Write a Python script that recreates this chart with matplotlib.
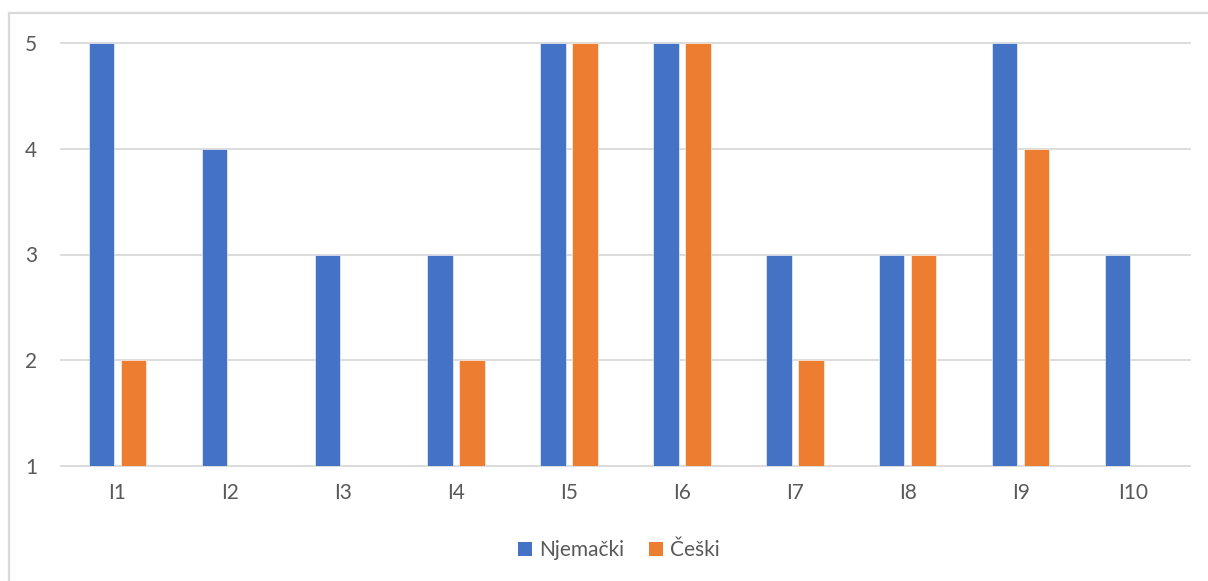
import matplotlib
matplotlib.use("Agg")
import matplotlib.pyplot as plt
from matplotlib.lines import Line2D
from matplotlib.patches import Patch
import numpy as np

plt.rcParams['font.family'] = ['Lato', 'DejaVu Sans']

categories = ["I1", "I2", "I3", "I4", "I5", "I6", "I7", "I8", "I9", "I10"]
njemacki = [5, 4, 3, 3, 5, 5, 3, 3, 5, 3]
ceski = [2, 1, 1, 2, 5, 5, 2, 3, 4, 1]
yticks = [1, 2, 3, 4, 5]
baseline = 1

blue = "#4472C4"
orange = "#ED7D31"
text_c = "#595959"
grid_c = "#D9D9D9"

W, H = 1208, 581
fig = plt.figure(figsize=(W / 100, H / 100), dpi=100)
ax = fig.add_axes([61 / W, 1 - 466 / H, (1190 - 61) / W, (466 - 43) / H])

x = np.arange(len(categories))
bw = 0.225
off = 0.142
ax.bar(x - off, np.array(njemacki) - baseline, bottom=baseline, width=bw,
       color=blue, edgecolor="white", linewidth=0.4, zorder=3)
ax.bar(x + off, np.array(ceski) - baseline, bottom=baseline, width=bw,
       color=orange, edgecolor="white", linewidth=0.4, zorder=3)

ax.set_xlim(-0.5, len(categories) - 0.5)
ax.set_ylim(yticks[0], yticks[-1])
for yv in yticks:
    ax.axhline(yv, color=grid_c, linewidth=1.3, zorder=1, clip_on=False)

for s in ax.spines.values():
    s.set_visible(False)
ax.set_yticks(yticks)
ax.set_xticks(x)
ax.set_xticklabels(categories)
ax.tick_params(axis="both", length=0, labelsize=15, colors=text_c)
ax.tick_params(axis="y", pad=17)
ax.tick_params(axis="x", pad=12)

# outer frame (left and top)
fig.add_artist(Line2D([8.5 / W, 8.5 / W], [0, 1 - 12.5 / H], transform=fig.transFigure,
                      color=grid_c, linewidth=1.6))
fig.add_artist(Line2D([8.5 / W, 1], [1 - 12.5 / H, 1 - 12.5 / H], transform=fig.transFigure,
                      color=grid_c, linewidth=1.6))

handles = [Patch(facecolor=blue, edgecolor="none"), Patch(facecolor=orange, edgecolor="none")]
fig.legend(handles, ["Njemački", "Češki"], loc="center", bbox_to_anchor=(619 / W, 1 - 550 / H),
           ncol=2, frameon=False, fontsize=15, labelcolor=text_c, handlelength=0.65,
           handleheight=0.65, handletextpad=0.35, columnspacing=1.2)

fig.savefig("out.png", dpi=100)
